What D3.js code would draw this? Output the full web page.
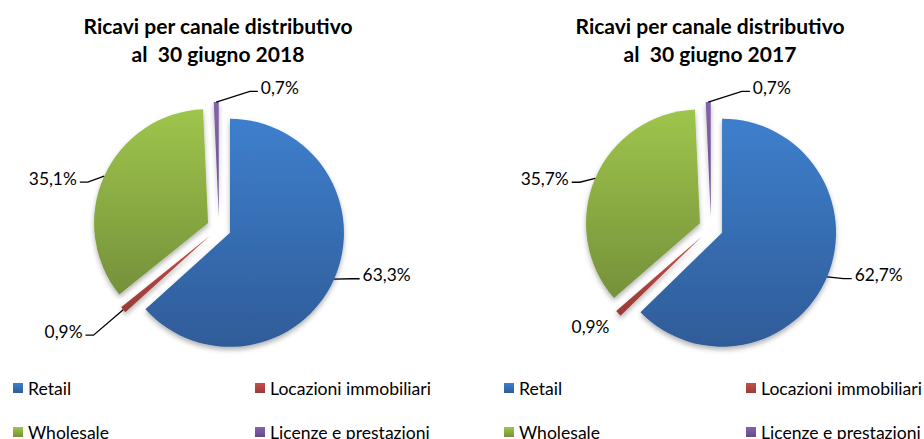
<!DOCTYPE html>
<html>
<head>
<meta charset="utf-8">
<script src="https://cdn.jsdelivr.net/npm/d3@7"></script>
<style>
  body { margin: 0; background: #fff; }
  svg { display: block; }
  text { font-family: Lato, "Open Sans", sans-serif; white-space: pre; }
</style>
</head>
<body>
<svg id="chart" width="924" height="439"></svg>
<script>
// Data
const categories = ["Retail", "Locazioni immobiliari", "Wholesale", "Licenze e prestazioni"];
const values2018 = [63.3, 0.9, 35.1, 0.7];
const values2017 = [62.7, 0.9, 35.7, 0.7];
const titleLines2018 = ["Ricavi per canale distributivo", "al  30 giugno 2018"];
const titleLines2017 = ["Ricavi per canale distributivo", "al  30 giugno 2017"];

const svg = d3.select("#chart");

// gradient pairs, top -> bottom
const colors = [
  ["#3e7fcd", "#2f5c98"],
  ["#c4504c", "#9a3a37"],
  ["#9fc54c", "#75913a"],
  ["#8466a8", "#65498a"]
];
const zScale = d3.scaleOrdinal().domain(categories).range(d3.range(categories.length));

const defs = svg.append("defs");
colors.forEach((c, i) => {
  const g = defs.append("linearGradient").attr("id", "grad" + i)
    .attr("x1", 0).attr("y1", 0).attr("x2", 0).attr("y2", 1);
  g.append("stop").attr("offset", "0%").attr("stop-color", c[0]);
  g.append("stop").attr("offset", "100%").attr("stop-color", c[1]);
});
const shadow = defs.append("filter").attr("id", "shadow")
  .attr("x", "-20%").attr("y", "-20%").attr("width", "140%").attr("height", "140%");
shadow.append("feDropShadow").attr("dx", 0).attr("dy", 3).attr("stdDeviation", 2.5)
  .attr("flood-color", "#000").attr("flood-opacity", 0.3);

// font size that makes a sample text a given width
function fitSize(str, target, weight) {
  const t = svg.append("text").attr("font-size", 20).attr("font-weight", weight || "normal").text(str);
  const w = t.node().getComputedTextLength();
  t.remove();
  return +(20 * target / w).toFixed(2);
}
const titleSize = fitSize("Ricavi per canale distributivo", 269, "bold");
const labelSize = fitSize("63,3%", 48);
const legendSize = fitSize("Locazioni immobiliari", 161);

const fmt = (v) => d3.format(".1f")(v).replace(".", ",") + "%";

const radius = 114;
const explode = 12;
const pie = d3.pie().sort(null).value((d) => d.value);
const arc = d3.arc().innerRadius(0).outerRadius(radius);

const charts = [
  { values: values2018, title: titleLines2018, cx: 219, legendX: 13,
    nudge: [{ da: -3, r: 142 }, { da: 0, r: 165 }, { da: -5, r: 139 }, { da: 14, r: 140 }] },
  { values: values2017, title: titleLines2017, cx: 711, legendX: 504,
    nudge: [{ da: -2, r: 142 }, { da: -6, r: 137, noLine: true }, { da: -4, r: 139 }, { da: 14, r: 140 }] }
];
const cy = 228;

function polar(angle, r) {
  return [r * Math.sin(angle), -r * Math.cos(angle)];
}

charts.forEach((chart) => {
  const data = categories.map((c, i) => ({ cat: c, value: chart.values[i] }));
  const g = svg.append("g").attr("transform", `translate(${chart.cx},${cy})`);

  // title
  chart.title.forEach((line, i) => {
    svg.append("text")
      .attr("x", chart.cx - 1)
      .attr("y", 25 + i * 28)
      .attr("text-anchor", "middle")
      .attr("dominant-baseline", "central")
      .attr("font-size", titleSize)
      .attr("font-weight", "bold")
      .attr("fill", "#000")
      .text(line);
  });

  const arcs = pie(data);

  // slices
  g.append("g").attr("filter", "url(#shadow)")
    .selectAll("path")
    .data(arcs)
    .enter()
    .append("path")
    .attr("transform", (d) => {
      const [x, y] = polar((d.startAngle + d.endAngle) / 2, explode);
      return `translate(${x},${y})`;
    })
    .attr("d", arc)
    .attr("fill", (d) => `url(#grad${zScale(d.data.cat)})`);

  // labels
  arcs.forEach((d, i) => {
    const mid = (d.startAngle + d.endAngle) / 2;
    const n = chart.nudge[i];
    const p0 = polar(mid, radius + explode);
    const p1 = polar(mid + n.da * Math.PI / 180, n.r);
    const right = p1[0] > 0;
    const p2 = [p1[0] + (right ? 8 : -8), p1[1]];
    if (!n.noLine) {
      g.append("path")
        .attr("d", d3.line()([p0, p1, p2]))
        .attr("fill", "none")
        .attr("stroke", "#000")
        .attr("stroke-width", 1.3);
    }
    g.append("text")
      .attr("x", p1[0] + (right ? 11 : -11))
      .attr("y", p1[1] - 4)
      .attr("text-anchor", right ? "start" : "end")
      .attr("dominant-baseline", "central")
      .attr("font-size", labelSize)
      .attr("fill", "#000")
      .text(fmt(d.data.value));
  });

  // legend
  const colX = d3.scaleBand().domain([0, 1]).range([chart.legendX, chart.legendX + 484]);
  const rowY = d3.scaleBand().domain([0, 1]).range([366, 454]);
  categories.forEach((c, i) => {
    const x = colX(i % 2);
    const y = rowY(Math.floor(i / 2)) + rowY.bandwidth() / 2;
    svg.append("rect")
      .attr("x", x).attr("y", y - 5)
      .attr("width", 10).attr("height", 10)
      .attr("fill", `url(#grad${zScale(c)})`);
    svg.append("text")
      .attr("x", x + 15).attr("y", y)
      .attr("dominant-baseline", "central")
      .attr("font-size", legendSize)
      .attr("fill", "#000")
      .text(c);
  });
});
</script>
</body>
</html>
